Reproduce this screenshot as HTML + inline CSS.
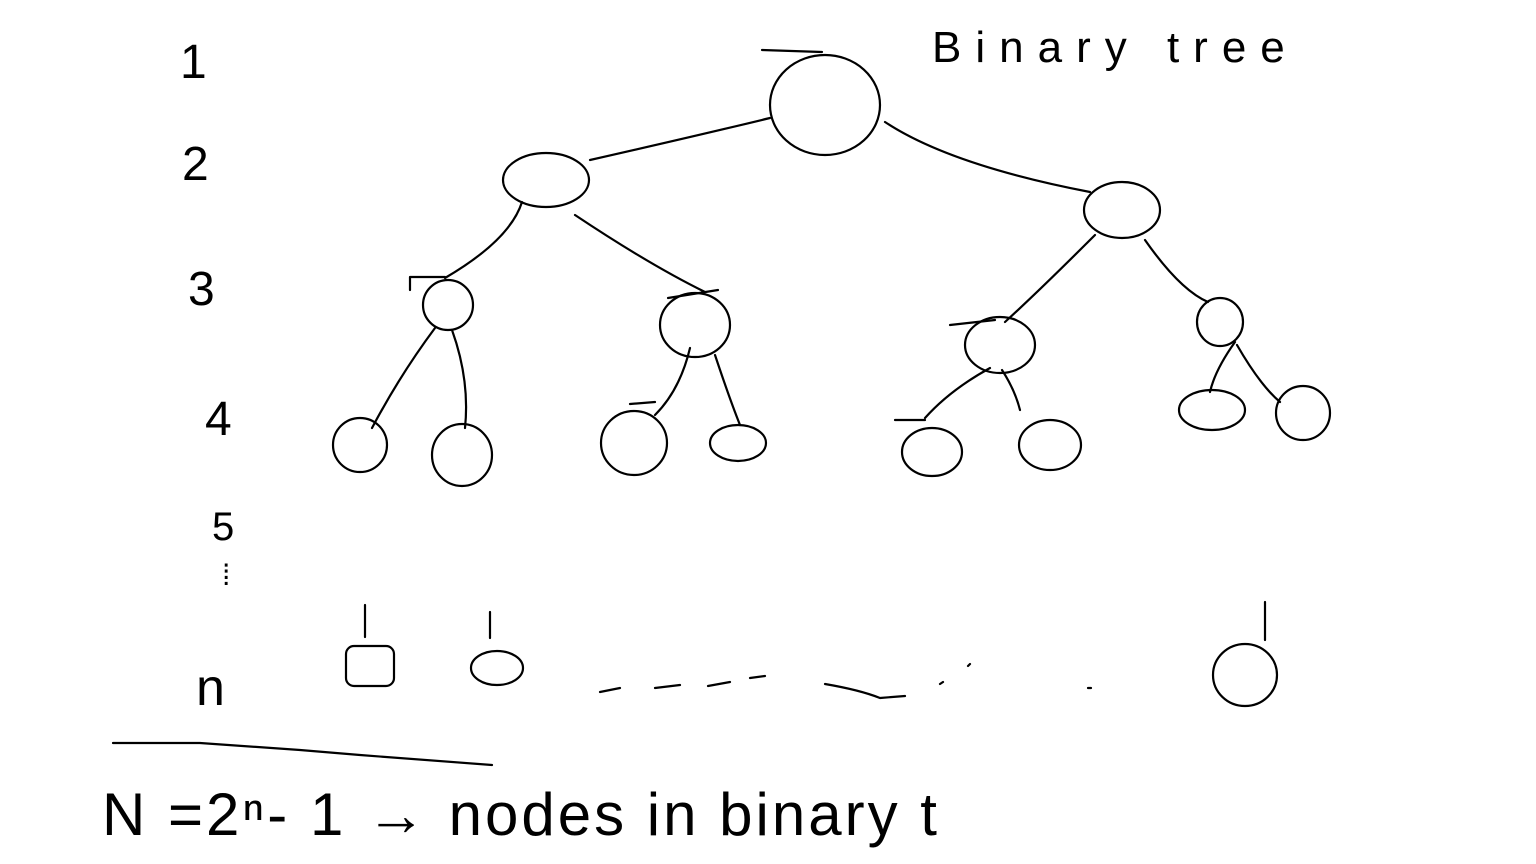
<!DOCTYPE html>
<html><head><meta charset="utf-8"><style>
html,body{margin:0;padding:0;background:#fff;width:1536px;height:864px;overflow:hidden}
svg{display:block}
text{font-family:"Liberation Sans",sans-serif;fill:#000;font-weight:normal}
</style></head><body>
<svg width="1536" height="864" viewBox="0 0 1536 864" fill="none" stroke="#000" stroke-width="2.2" stroke-linecap="round" stroke-linejoin="round">
<text x="932" y="62" font-size="44" stroke="none" letter-spacing="14">Binary tree</text>
<text x="180" y="78" font-size="48" stroke="none">1</text>
<text x="182" y="180" font-size="48" stroke="none">2</text>
<text x="188" y="305" font-size="48" stroke="none">3</text>
<text x="205" y="435" font-size="48" stroke="none">4</text>
<text x="212" y="540" font-size="40" stroke="none">5</text>
<text x="222" y="585" font-size="30" stroke="none">⁞</text>
<text x="196" y="705" font-size="52" stroke="none">n</text>
<path d="M762 50 L822 52"/>
<ellipse cx="825" cy="105" rx="55" ry="50"/>
<ellipse cx="546" cy="180" rx="43" ry="27"/>
<ellipse cx="1122" cy="210" rx="38" ry="28"/>
<path d="M770 118 Q700 135 590 160"/>
<path d="M885 122 Q950 165 1090 192"/>
<ellipse cx="448" cy="305" rx="25" ry="25"/>
<path d="M410 290 L410 277 L445 277"/>
<ellipse cx="695" cy="325" rx="35" ry="32"/>
<path d="M668 298 L718 290"/>
<ellipse cx="1000" cy="345" rx="35" ry="28"/>
<path d="M950 325 L995 320"/>
<ellipse cx="1220" cy="322" rx="23" ry="24"/>
<path d="M522 202 Q510 240 445 278"/>
<path d="M575 215 Q650 265 705 292"/>
<path d="M1095 235 Q1040 290 1005 322"/>
<path d="M1145 240 Q1180 290 1208 302"/>
<ellipse cx="360" cy="445" rx="27" ry="27"/>
<ellipse cx="462" cy="455" rx="30" ry="31"/>
<ellipse cx="634" cy="443" rx="33" ry="32"/>
<ellipse cx="738" cy="443" rx="28" ry="18"/>
<ellipse cx="932" cy="452" rx="30" ry="24"/>
<ellipse cx="1050" cy="445" rx="31" ry="25"/>
<ellipse cx="1212" cy="410" rx="33" ry="20"/>
<ellipse cx="1303" cy="413" rx="27" ry="27"/>
<path d="M435 328 Q400 375 372 428"/>
<path d="M452 330 Q470 380 465 428"/>
<path d="M690 348 Q680 390 655 415"/>
<path d="M715 355 Q730 400 740 425"/>
<path d="M990 368 Q950 390 925 418"/>
<path d="M1002 370 Q1015 390 1020 410"/>
<path d="M1235 342 Q1215 370 1210 392"/>
<path d="M1237 345 Q1260 385 1280 402"/>
<path d="M630 404 L655 402"/>
<path d="M895 420 L925 420"/>
<path d="M365 605 L365 637"/>
<rect x="346" y="646" width="48" height="40" rx="8"/>
<path d="M490 612 L490 638"/>
<ellipse cx="497" cy="668" rx="26" ry="17"/>
<path d="M1265 602 L1265 640"/>
<ellipse cx="1245" cy="675" rx="32" ry="31"/>
<path d="M600 692 L620 688 M655 688 L680 685 M708 686 L730 682 M750 678 L765 676 M825 684 Q860 690 880 698 L905 696 M940 684 L943 682 M968 666 L970 664 M1088 688 L1091 688"/>
<path d="M113 743 L200 743 L300 750 L360 755 L492 765"/>
<text x="102" y="835" font-size="60" stroke="none" letter-spacing="3">N =2ⁿ- 1 → nodes in binary t</text>
</svg>
</body></html>
